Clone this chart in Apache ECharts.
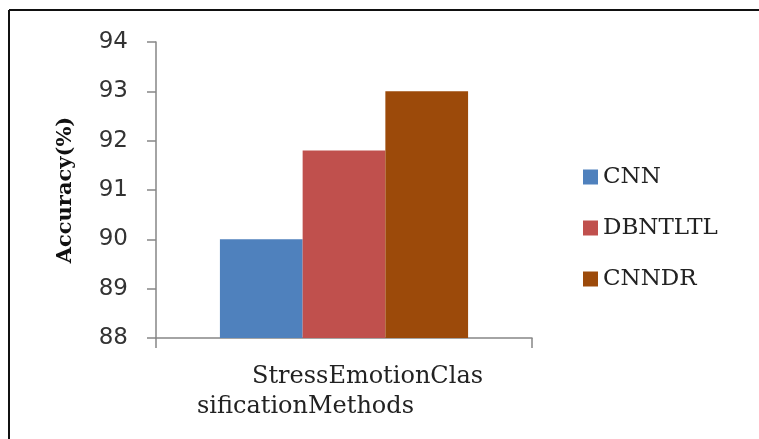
<!DOCTYPE html>
<html>
<head>
<meta charset="utf-8">
<script src="https://cdn.jsdelivr.net/npm/echarts@6/dist/echarts.min.js"></script>
<style>
  html, body { margin: 0; padding: 0; background: #fff; }
  #chart { width: 759px; height: 439px; }
</style>
</head>
<body>
<div id="chart"></div>
<script>
// Accuracy of the stress-emotion classification methods
const categories = ['StressEmotionClassificationMethods'];
const seriesNames = ['CNN', 'DBNTLTL', 'CNNDR'];
const cnnValues = [90];
const dbntltlValues = [91.8];
const cnndrValues = [93];
const yTicks = [88, 89, 90, 91, 92, 93, 94];

const colors = ['#4F81BD', '#C0504D', '#9C4A0A'];
const seriesValues = [cnnValues, dbntltlValues, cnndrValues];

const chart = echarts.init(document.getElementById('chart'), null, { renderer: 'canvas' });

chart.setOption({
  animation: false,
  backgroundColor: '#ffffff',
  graphic: [
    { type: 'line', shape: { x1: 9, y1: 10, x2: 9, y2: 439 }, style: { stroke: '#111', lineWidth: 2 } },
    { type: 'line', shape: { x1: 9, y1: 10, x2: 759, y2: 10 }, style: { stroke: '#111', lineWidth: 2 } }
  ],
  grid: { left: 156, right: 227, top: 42, bottom: 101, containLabel: false },
  legend: {
    orient: 'vertical',
    left: 578,
    top: 160,
    itemWidth: 15,
    itemHeight: 15,
    itemGap: 27,
    icon: 'rect',
    data: seriesNames,
    textStyle: { fontFamily: 'DejaVu Serif', fontSize: 23, color: '#222', lineHeight: 24 }
  },
  xAxis: {
    type: 'category',
    data: categories,
    axisLine: { lineStyle: { color: '#868686', width: 1.5 } },
    axisTick: { show: true, length: 10, lineStyle: { color: '#868686', width: 1.5 } },
    axisLabel: {
      margin: 24,
      width: 286,
      padding: [0, 8, 0, 0],
      formatter: function () {
        return '{a|StressEmotionClas}\n{b|sificationMethods}';
      },
      rich: {
        a: { align: 'right', fontFamily: 'DejaVu Serif', fontSize: 24, color: '#222', lineHeight: 30 },
        b: { align: 'left', fontFamily: 'DejaVu Serif', fontSize: 24, color: '#222', lineHeight: 30 }
      }
    }
  },
  yAxis: {
    type: 'value',
    min: yTicks[0],
    max: yTicks[yTicks.length - 1],
    interval: 1,
    name: 'Accuracy(%)',
    nameLocation: 'middle',
    nameRotate: 90,
    nameGap: 80,
    nameTextStyle: { fontFamily: 'DejaVu Serif', fontWeight: 'bold', fontSize: 21, color: '#111' },
    axisLine: { show: true, lineStyle: { color: '#868686', width: 1.5 } },
    axisTick: { show: true, length: 9, lineStyle: { color: '#868686', width: 1.5 } },
    splitLine: { show: false },
    axisLabel: { margin: 28, fontFamily: 'DejaVu Sans', fontSize: 23, color: '#333' }
  },
  series: seriesNames.map(function (name, i) {
    return {
      name: name,
      type: 'bar',
      data: seriesValues[i],
      barGap: '0%',
      barCategoryGap: '34%',
      itemStyle: { color: colors[i] }
    };
  })
});
</script>
</body>
</html>
